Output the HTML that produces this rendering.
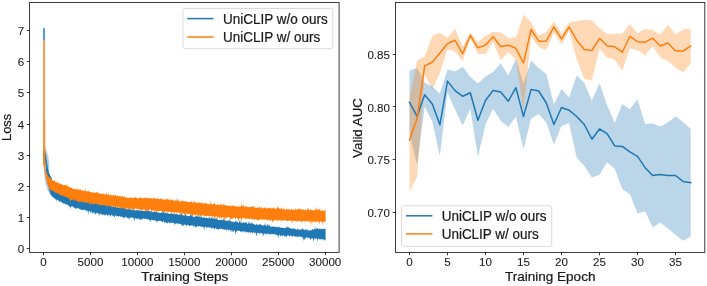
<!DOCTYPE html>
<html><head><meta charset="utf-8"><style>
html,body{margin:0;padding:0;background:#fff;}
svg{display:block;will-change:transform;}
text{font-family:"Liberation Sans", sans-serif;fill:#1a1a1a;stroke:#1a1a1a;stroke-width:0.22px;}
text.t{stroke-width:0.08px;}
</style></head><body>
<svg width="707" height="286" viewBox="0 0 707 286">
<rect width="707" height="286" fill="#fff"/>
<rect x="43.0" y="28.2" width="2.05" height="135" fill="#539fd8"/>
<path d="M45.00,146.00 L46.50,150.00 L48.20,156.00 L49.30,163.00 L49.50,169.00 L48.80,172.50 L46.50,168.00 L45.20,160.00Z" fill="#b5d2ea"/>
<path d="M43.40,163.00 L43.90,172.00 L44.80,179.00 L46.00,185.00 L47.80,190.50 L50.00,194.50 L51.50,195.00 L50.50,190.00 L48.40,185.30 L46.30,179.00 L44.90,172.00 L44.20,163.00Z" fill="#a9cae5"/>
<path d="M45.40,150.00 L46.30,157.00 L47.20,163.00 L47.80,168.00 L48.80,172.00 L50.20,175.50 L51.80,178.50 L52.60,190.44 L53.10,190.06 L53.60,190.43 L54.10,191.15 L54.60,191.31 L55.10,191.43 L55.60,191.19 L56.10,191.68 L56.60,191.14 L57.10,191.39 L57.60,189.23 L58.10,190.81 L58.60,192.40 L59.10,192.37 L59.60,192.66 L60.10,192.15 L60.60,192.48 L61.10,193.21 L61.60,192.50 L62.10,193.25 L62.60,193.22 L63.10,192.59 L63.60,193.78 L64.10,193.55 L64.60,193.25 L65.10,191.31 L65.60,194.16 L66.10,194.61 L66.60,194.85 L67.10,193.88 L67.60,193.51 L68.10,194.38 L68.60,194.78 L69.10,194.16 L69.60,195.26 L70.10,195.87 L70.60,195.23 L71.10,194.83 L71.60,195.97 L72.10,196.49 L72.60,196.51 L73.10,196.76 L73.60,196.84 L74.10,196.70 L74.60,197.18 L75.10,196.76 L75.60,196.17 L76.10,197.43 L76.60,197.48 L77.10,195.46 L77.60,197.98 L78.10,198.07 L78.60,197.72 L79.10,198.57 L79.60,198.36 L80.10,196.42 L80.60,198.44 L81.10,198.27 L81.60,197.48 L82.10,197.80 L82.60,199.21 L83.10,199.67 L83.60,199.85 L84.10,199.87 L84.60,199.87 L85.10,200.35 L85.60,200.41 L86.10,200.62 L86.60,200.03 L87.10,200.71 L87.60,200.73 L88.10,199.72 L88.60,200.88 L89.10,201.46 L89.60,201.34 L90.10,200.41 L90.60,201.95 L91.10,201.52 L91.60,201.64 L92.10,201.82 L92.60,200.97 L93.10,202.47 L93.60,202.71 L94.10,202.40 L94.60,202.84 L95.10,201.97 L95.60,201.92 L96.10,202.23 L96.60,203.54 L97.10,203.54 L97.60,204.02 L98.10,203.95 L98.60,201.83 L99.10,202.27 L99.60,202.15 L100.10,204.57 L100.60,204.68 L101.10,204.16 L101.60,203.56 L102.10,204.27 L102.60,205.14 L103.10,203.37 L103.60,204.28 L104.10,205.32 L104.60,205.24 L105.10,202.80 L105.60,205.33 L106.10,204.80 L106.60,205.81 L107.10,204.12 L107.60,205.97 L108.10,203.04 L108.60,205.92 L109.10,206.25 L109.60,203.62 L110.10,205.94 L110.60,206.17 L111.10,205.31 L111.60,206.57 L112.10,206.67 L112.60,206.74 L113.10,206.95 L113.60,206.80 L114.10,206.54 L114.60,206.89 L115.10,206.86 L115.60,206.91 L116.10,207.13 L116.60,207.68 L117.10,207.62 L117.60,206.83 L118.10,207.63 L118.60,207.39 L119.10,208.03 L119.60,207.98 L120.10,207.12 L120.60,207.73 L121.10,206.53 L121.60,207.81 L122.10,208.08 L122.60,208.26 L123.10,208.31 L123.60,207.96 L124.10,206.73 L124.60,208.44 L125.10,207.72 L125.60,209.17 L126.10,209.30 L126.60,209.39 L127.10,208.31 L127.60,209.49 L128.10,208.85 L128.60,208.09 L129.10,209.69 L129.60,209.57 L130.10,206.38 L130.60,209.96 L131.10,209.56 L131.60,210.01 L132.10,209.20 L132.60,209.62 L133.10,210.30 L133.60,209.57 L134.10,210.35 L134.60,209.20 L135.10,210.39 L135.60,210.49 L136.10,210.32 L136.60,210.17 L137.10,209.29 L137.60,210.57 L138.10,210.06 L138.60,210.71 L139.10,209.89 L139.60,210.81 L140.10,210.10 L140.60,210.88 L141.10,210.94 L141.60,210.55 L142.10,210.43 L142.60,210.87 L143.10,210.56 L143.60,211.11 L144.10,211.21 L144.60,210.99 L145.10,210.19 L145.60,210.82 L146.10,211.08 L146.60,211.23 L147.10,210.45 L147.60,211.38 L148.10,209.41 L148.60,210.26 L149.10,211.13 L149.60,211.32 L150.10,210.83 L150.60,211.49 L151.10,210.90 L151.60,211.53 L152.10,211.96 L152.60,212.00 L153.10,211.89 L153.60,212.11 L154.10,210.61 L154.60,212.04 L155.10,212.08 L155.60,212.28 L156.10,212.24 L156.60,209.66 L157.10,212.38 L157.60,212.37 L158.10,212.72 L158.60,212.27 L159.10,212.66 L159.60,212.90 L160.10,212.89 L160.60,212.99 L161.10,212.79 L161.60,212.44 L162.10,212.09 L162.60,212.25 L163.10,212.93 L163.60,210.04 L164.10,212.41 L164.60,213.47 L165.10,211.78 L165.60,212.56 L166.10,213.56 L166.60,213.18 L167.10,212.50 L167.60,213.16 L168.10,213.00 L168.60,213.77 L169.10,213.93 L169.60,214.01 L170.10,213.51 L170.60,213.43 L171.10,213.74 L171.60,213.06 L172.10,213.84 L172.60,213.60 L173.10,213.45 L173.60,214.52 L174.10,213.60 L174.60,213.62 L175.10,214.22 L175.60,214.30 L176.10,213.72 L176.60,214.12 L177.10,214.87 L177.60,213.97 L178.10,214.45 L178.60,215.13 L179.10,214.35 L179.60,214.40 L180.10,214.78 L180.60,214.92 L181.10,213.69 L181.60,212.48 L182.10,215.58 L182.60,214.28 L183.10,215.24 L183.60,215.58 L184.10,215.64 L184.60,215.77 L185.10,213.51 L185.60,214.63 L186.10,214.32 L186.60,215.91 L187.10,215.65 L187.60,216.24 L188.10,215.82 L188.60,216.24 L189.10,216.11 L189.60,216.47 L190.10,215.07 L190.60,214.51 L191.10,214.80 L191.60,216.34 L192.10,211.39 L192.60,216.47 L193.10,216.63 L193.60,216.86 L194.10,216.73 L194.60,216.83 L195.10,216.55 L195.60,216.81 L196.10,215.51 L196.60,216.50 L197.10,215.09 L197.60,216.40 L198.10,216.42 L198.60,216.41 L199.10,217.32 L199.60,215.56 L200.10,217.20 L200.60,217.48 L201.10,214.83 L201.60,217.03 L202.10,217.29 L202.60,217.85 L203.10,217.87 L203.60,217.57 L204.10,216.28 L204.60,217.76 L205.10,218.12 L205.60,218.02 L206.10,218.19 L206.60,217.79 L207.10,217.42 L207.60,218.16 L208.10,218.27 L208.60,218.65 L209.10,216.02 L209.60,218.28 L210.10,217.32 L210.60,218.73 L211.10,218.64 L211.60,216.66 L212.10,217.54 L212.60,219.24 L213.10,217.53 L213.60,218.70 L214.10,219.08 L214.60,218.15 L215.10,216.75 L215.60,219.60 L216.10,219.17 L216.60,217.56 L217.10,219.07 L217.60,219.49 L218.10,220.02 L218.60,219.91 L219.10,219.36 L219.60,220.15 L220.10,219.53 L220.60,220.31 L221.10,219.88 L221.60,220.16 L222.10,219.89 L222.60,220.41 L223.10,218.21 L223.60,219.11 L224.10,220.69 L224.60,218.39 L225.10,220.76 L225.60,220.57 L226.10,220.76 L226.60,220.38 L227.10,221.13 L227.60,221.08 L228.10,220.56 L228.60,220.27 L229.10,221.06 L229.60,218.89 L230.10,220.39 L230.60,221.62 L231.10,221.61 L231.60,221.40 L232.10,221.81 L232.60,221.20 L233.10,222.01 L233.60,222.01 L234.10,222.14 L234.60,222.27 L235.10,220.56 L235.60,221.39 L236.10,220.36 L236.60,222.41 L237.10,221.53 L237.60,221.82 L238.10,222.38 L238.60,222.67 L239.10,222.62 L239.60,220.45 L240.10,220.34 L240.60,222.71 L241.10,221.75 L241.60,223.15 L242.10,222.88 L242.60,223.14 L243.10,221.56 L243.60,223.02 L244.10,222.34 L244.60,223.53 L245.10,221.60 L245.60,222.59 L246.10,223.42 L246.60,221.28 L247.10,223.63 L247.60,223.63 L248.10,223.99 L248.60,222.07 L249.10,221.83 L249.60,223.97 L250.10,221.73 L250.60,223.92 L251.10,223.92 L251.60,222.33 L252.10,223.20 L252.60,223.17 L253.10,223.87 L253.60,224.37 L254.10,223.52 L254.60,224.63 L255.10,224.64 L255.60,224.90 L256.10,224.67 L256.60,223.33 L257.10,224.87 L257.60,225.10 L258.10,224.25 L258.60,225.09 L259.10,224.59 L259.60,224.33 L260.10,224.63 L260.60,224.10 L261.10,224.97 L261.60,224.63 L262.10,225.55 L262.60,225.71 L263.10,225.22 L263.60,225.57 L264.10,225.48 L264.60,224.79 L265.10,222.42 L265.60,225.73 L266.10,224.85 L266.60,226.35 L267.10,226.35 L267.60,223.63 L268.10,224.46 L268.60,225.05 L269.10,226.49 L269.60,224.46 L270.10,226.14 L270.60,226.72 L271.10,226.84 L271.60,226.78 L272.10,226.23 L272.60,227.11 L273.10,226.27 L273.60,226.93 L274.10,226.01 L274.60,227.28 L275.10,226.98 L275.60,226.62 L276.10,227.35 L276.60,227.12 L277.10,227.30 L277.60,227.35 L278.10,227.35 L278.60,226.16 L279.10,227.44 L279.60,226.82 L280.10,227.91 L280.60,227.52 L281.10,227.60 L281.60,227.57 L282.10,228.11 L282.60,227.35 L283.10,228.15 L283.60,227.91 L284.10,228.20 L284.60,227.79 L285.10,228.34 L285.60,227.18 L286.10,228.36 L286.60,226.30 L287.10,228.12 L287.60,226.61 L288.10,226.87 L288.60,227.41 L289.10,227.62 L289.60,228.49 L290.10,227.55 L290.60,228.82 L291.10,228.49 L291.60,229.02 L292.10,228.15 L292.60,229.21 L293.10,228.16 L293.60,227.89 L294.10,228.67 L294.60,228.67 L295.10,229.08 L295.60,229.13 L296.10,229.15 L296.60,229.66 L297.10,229.20 L297.60,228.64 L298.10,229.36 L298.60,229.39 L299.10,229.85 L299.60,229.94 L300.10,229.50 L300.60,229.32 L301.10,229.13 L301.60,229.67 L302.10,229.73 L302.60,227.94 L303.10,228.85 L303.60,229.41 L304.10,230.34 L304.60,230.03 L305.10,228.65 L305.60,229.44 L306.10,230.68 L306.60,229.67 L307.10,229.04 L307.60,229.55 L308.10,230.38 L308.60,230.68 L309.10,230.24 L309.60,230.71 L310.10,230.53 L310.60,229.69 L311.10,230.39 L311.60,230.37 L312.10,229.59 L312.60,228.69 L313.10,229.58 L313.60,230.11 L314.10,229.33 L314.60,228.74 L315.10,226.18 L315.60,229.43 L316.10,229.21 L316.60,228.48 L317.10,228.08 L317.60,228.52 L318.10,228.55 L318.60,228.96 L319.10,229.24 L319.60,228.50 L320.10,228.70 L320.60,229.17 L321.10,228.44 L321.60,229.29 L322.10,229.21 L322.60,229.11 L323.10,228.60 L323.60,228.54 L324.10,229.21 L324.60,229.11 L325.10,229.26 L325.60,227.71 L325.60,240.45 L325.10,239.99 L324.60,239.25 L324.10,241.27 L323.60,239.53 L323.10,239.14 L322.60,239.60 L322.10,239.20 L321.60,239.14 L321.10,238.76 L320.60,238.89 L320.10,240.44 L319.60,239.03 L319.10,238.65 L318.60,238.47 L318.10,239.28 L317.60,241.67 L317.10,238.54 L316.60,238.29 L316.10,238.35 L315.60,239.30 L315.10,238.77 L314.60,238.28 L314.10,238.38 L313.60,241.89 L313.10,239.58 L312.60,238.46 L312.10,238.11 L311.60,238.31 L311.10,238.88 L310.60,239.40 L310.10,239.74 L309.60,237.65 L309.10,237.74 L308.60,237.62 L308.10,239.34 L307.60,237.39 L307.10,237.47 L306.60,237.30 L306.10,237.45 L305.60,239.18 L305.10,237.14 L304.60,239.45 L304.10,240.09 L303.60,238.18 L303.10,241.22 L302.60,236.84 L302.10,237.05 L301.60,236.66 L301.10,237.76 L300.60,236.57 L300.10,236.48 L299.60,236.86 L299.10,236.79 L298.60,236.38 L298.10,236.39 L297.60,237.39 L297.10,236.34 L296.60,236.84 L296.10,236.48 L295.60,236.82 L295.10,236.60 L294.60,236.14 L294.10,236.44 L293.60,235.84 L293.10,235.72 L292.60,236.29 L292.10,237.40 L291.60,235.75 L291.10,235.86 L290.60,235.82 L290.10,235.52 L289.60,236.81 L289.10,235.47 L288.60,235.37 L288.10,235.96 L287.60,235.53 L287.10,235.14 L286.60,238.02 L286.10,235.12 L285.60,237.69 L285.10,235.46 L284.60,236.96 L284.10,235.10 L283.60,235.35 L283.10,235.53 L282.60,236.63 L282.10,235.30 L281.60,234.76 L281.10,236.29 L280.60,235.90 L280.10,236.34 L279.60,234.63 L279.10,234.58 L278.60,238.91 L278.10,234.74 L277.60,234.94 L277.10,236.68 L276.60,234.45 L276.10,235.09 L275.60,234.17 L275.10,234.69 L274.60,234.09 L274.10,234.60 L273.60,234.10 L273.10,234.04 L272.60,234.15 L272.10,233.97 L271.60,234.48 L271.10,233.89 L270.60,234.03 L270.10,234.39 L269.60,233.66 L269.10,234.73 L268.60,233.96 L268.10,233.82 L267.60,234.10 L267.10,233.52 L266.60,233.59 L266.10,235.23 L265.60,234.59 L265.10,233.27 L264.60,233.99 L264.10,233.30 L263.60,236.96 L263.10,233.32 L262.60,234.69 L262.10,233.15 L261.60,233.05 L261.10,233.21 L260.60,233.07 L260.10,232.85 L259.60,234.20 L259.10,233.56 L258.60,233.04 L258.10,233.03 L257.60,233.06 L257.10,232.52 L256.60,235.93 L256.10,235.49 L255.60,232.94 L255.10,232.30 L254.60,233.31 L254.10,232.21 L253.60,232.45 L253.10,232.36 L252.60,233.17 L252.10,233.01 L251.60,232.05 L251.10,232.38 L250.60,232.01 L250.10,234.19 L249.60,232.19 L249.10,231.65 L248.60,232.38 L248.10,232.65 L247.60,231.73 L247.10,232.43 L246.60,232.13 L246.10,231.57 L245.60,233.09 L245.10,231.45 L244.60,231.21 L244.10,231.14 L243.60,232.39 L243.10,231.03 L242.60,231.32 L242.10,232.92 L241.60,231.36 L241.10,231.25 L240.60,232.13 L240.10,230.88 L239.60,230.75 L239.10,230.94 L238.60,230.54 L238.10,230.81 L237.60,230.82 L237.10,230.41 L236.60,232.53 L236.10,230.60 L235.60,235.03 L235.10,231.90 L234.60,230.53 L234.10,230.12 L233.60,232.95 L233.10,230.37 L232.60,232.30 L232.10,230.30 L231.60,229.98 L231.10,232.19 L230.60,230.86 L230.10,229.87 L229.60,229.90 L229.10,229.72 L228.60,230.55 L228.10,229.59 L227.60,229.79 L227.10,229.32 L226.60,231.30 L226.10,229.41 L225.60,230.00 L225.10,229.06 L224.60,229.96 L224.10,229.15 L223.60,229.37 L223.10,229.62 L222.60,229.23 L222.10,228.68 L221.60,228.81 L221.10,229.25 L220.60,228.54 L220.10,229.38 L219.60,228.59 L219.10,228.59 L218.60,230.26 L218.10,229.40 L217.60,228.76 L217.10,229.21 L216.60,229.01 L216.10,228.85 L215.60,228.00 L215.10,228.03 L214.60,229.29 L214.10,229.77 L213.60,227.62 L213.10,228.07 L212.60,228.48 L212.10,227.45 L211.60,228.88 L211.10,227.78 L210.60,227.48 L210.10,227.38 L209.60,227.92 L209.10,227.17 L208.60,227.26 L208.10,227.27 L207.60,227.48 L207.10,227.25 L206.60,228.51 L206.10,226.95 L205.60,226.73 L205.10,226.67 L204.60,226.65 L204.10,230.99 L203.60,226.62 L203.10,228.25 L202.60,226.44 L202.10,226.64 L201.60,226.47 L201.10,226.36 L200.60,227.14 L200.10,226.34 L199.60,226.06 L199.10,225.93 L198.60,226.66 L198.10,226.25 L197.60,225.75 L197.10,226.29 L196.60,227.55 L196.10,226.87 L195.60,227.98 L195.10,225.59 L194.60,225.61 L194.10,227.50 L193.60,226.68 L193.10,225.23 L192.60,225.57 L192.10,225.78 L191.60,225.41 L191.10,225.23 L190.60,225.89 L190.10,224.94 L189.60,225.89 L189.10,226.18 L188.60,225.00 L188.10,224.89 L187.60,225.08 L187.10,224.50 L186.60,226.25 L186.10,225.34 L185.60,224.88 L185.10,224.36 L184.60,224.78 L184.10,224.83 L183.60,226.40 L183.10,224.26 L182.60,226.71 L182.10,224.39 L181.60,226.04 L181.10,223.96 L180.60,223.82 L180.10,224.16 L179.60,223.86 L179.10,224.45 L178.60,223.69 L178.10,223.37 L177.60,223.57 L177.10,223.44 L176.60,223.19 L176.10,223.82 L175.60,223.90 L175.10,223.28 L174.60,225.80 L174.10,222.93 L173.60,222.92 L173.10,222.82 L172.60,222.57 L172.10,223.05 L171.60,223.47 L171.10,222.29 L170.60,223.12 L170.10,222.92 L169.60,223.50 L169.10,222.34 L168.60,221.93 L168.10,222.77 L167.60,223.54 L167.10,223.07 L166.60,223.04 L166.10,222.11 L165.60,222.78 L165.10,222.15 L164.60,222.73 L164.10,222.04 L163.60,221.26 L163.10,221.37 L162.60,222.67 L162.10,221.76 L161.60,221.43 L161.10,220.96 L160.60,220.69 L160.10,221.01 L159.60,220.77 L159.10,221.01 L158.60,220.93 L158.10,220.68 L157.60,220.57 L157.10,222.84 L156.60,220.70 L156.10,222.60 L155.60,220.38 L155.10,220.32 L154.60,219.98 L154.10,220.57 L153.60,221.07 L153.10,219.67 L152.60,220.53 L152.10,219.48 L151.60,219.64 L151.10,220.03 L150.60,220.57 L150.10,222.30 L149.60,219.58 L149.10,220.40 L148.60,219.36 L148.10,218.95 L147.60,219.33 L147.10,219.40 L146.60,218.72 L146.10,218.67 L145.60,218.77 L145.10,218.83 L144.60,218.80 L144.10,218.64 L143.60,218.55 L143.10,218.58 L142.60,218.42 L142.10,220.35 L141.60,218.54 L141.10,219.75 L140.60,219.66 L140.10,219.35 L139.60,220.24 L139.10,218.40 L138.60,217.96 L138.10,218.82 L137.60,219.82 L137.10,218.00 L136.60,219.65 L136.10,217.77 L135.60,218.82 L135.10,217.81 L134.60,220.36 L134.10,220.82 L133.60,217.98 L133.10,217.68 L132.60,217.77 L132.10,217.28 L131.60,217.52 L131.10,217.49 L130.60,217.56 L130.10,218.49 L129.60,217.53 L129.10,219.37 L128.60,219.62 L128.10,216.93 L127.60,217.76 L127.10,218.50 L126.60,217.51 L126.10,216.78 L125.60,216.96 L125.10,216.55 L124.60,218.67 L124.10,216.55 L123.60,217.92 L123.10,218.45 L122.60,216.73 L122.10,217.00 L121.60,216.56 L121.10,216.40 L120.60,217.01 L120.10,216.37 L119.60,216.00 L119.10,216.34 L118.60,216.84 L118.10,216.14 L117.60,216.14 L117.10,215.94 L116.60,216.65 L116.10,215.46 L115.60,215.25 L115.10,215.78 L114.60,217.11 L114.10,216.93 L113.60,215.48 L113.10,216.85 L112.60,215.30 L112.10,215.50 L111.60,215.01 L111.10,214.86 L110.60,216.25 L110.10,216.72 L109.60,215.32 L109.10,214.43 L108.60,214.99 L108.10,215.15 L107.60,215.63 L107.10,215.48 L106.60,214.24 L106.10,214.19 L105.60,216.33 L105.10,214.32 L104.60,215.14 L104.10,215.04 L103.60,214.25 L103.10,214.88 L102.60,214.47 L102.10,214.83 L101.60,214.00 L101.10,215.26 L100.60,213.53 L100.10,213.49 L99.60,213.57 L99.10,216.63 L98.60,213.45 L98.10,213.80 L97.60,213.01 L97.10,212.65 L96.60,213.10 L96.10,213.48 L95.60,213.59 L95.10,215.52 L94.60,212.25 L94.10,213.14 L93.60,213.00 L93.10,212.07 L92.60,212.54 L92.10,214.55 L91.60,211.38 L91.10,211.37 L90.60,213.54 L90.10,211.16 L89.60,211.15 L89.10,210.87 L88.60,211.20 L88.10,214.54 L87.60,210.54 L87.10,210.67 L86.60,210.34 L86.10,211.75 L85.60,210.34 L85.10,210.00 L84.60,209.79 L84.10,209.78 L83.60,209.57 L83.10,210.21 L82.60,209.70 L82.10,210.45 L81.60,210.24 L81.10,208.91 L80.60,209.48 L80.10,209.49 L79.60,209.06 L79.10,208.67 L78.60,208.33 L78.10,208.46 L77.60,207.98 L77.10,207.74 L76.60,209.18 L76.10,207.73 L75.60,208.73 L75.10,208.70 L74.60,207.30 L74.10,208.31 L73.60,206.74 L73.10,207.52 L72.60,206.30 L72.10,206.53 L71.60,206.77 L71.10,205.96 L70.60,209.47 L70.10,206.26 L69.60,205.96 L69.10,207.21 L68.60,205.18 L68.10,205.21 L67.60,204.59 L67.10,204.77 L66.60,204.77 L66.10,204.23 L65.60,204.62 L65.10,203.39 L64.60,203.36 L64.10,204.55 L63.60,203.37 L63.10,203.45 L62.60,202.58 L62.10,202.79 L61.60,202.34 L61.10,201.87 L60.60,201.47 L60.10,201.51 L59.60,201.55 L59.10,201.92 L58.60,200.38 L58.10,200.27 L57.60,199.75 L57.10,199.83 L56.60,201.50 L56.10,199.05 L55.60,199.97 L55.10,198.35 L54.60,198.45 L54.10,198.27 L53.60,197.79 L53.10,197.20 L52.60,196.98 L50.60,194.50 L49.00,189.00 L47.80,184.00 L46.80,177.00 L46.00,170.00 L45.30,163.00 L44.90,158.00Z" fill="#1f77b4"/>
<rect x="43.0" y="40.1" width="2.05" height="80" fill="#f7a04f"/>
<rect x="43.0" y="120" width="2.2" height="45" fill="#f7953a"/>
<path d="M45.05,150.00 L45.05,163.00 L45.50,168.00 L46.30,172.00 L47.50,175.00 L49.50,177.80 L51.50,179.30 L52.60,180.44 L53.10,181.07 L53.60,180.64 L54.10,180.70 L54.60,179.54 L55.10,181.75 L55.60,182.17 L56.10,182.02 L56.60,182.61 L57.10,182.88 L57.60,180.85 L58.10,183.16 L58.60,183.00 L59.10,182.45 L59.60,183.72 L60.10,184.20 L60.60,183.25 L61.10,184.68 L61.60,183.78 L62.10,183.98 L62.60,185.04 L63.10,185.22 L63.60,185.29 L64.10,184.85 L64.60,184.99 L65.10,185.53 L65.60,185.12 L66.10,186.30 L66.60,184.04 L67.10,185.22 L67.60,186.86 L68.10,186.20 L68.60,186.38 L69.10,185.96 L69.60,187.63 L70.10,187.23 L70.60,187.34 L71.10,187.89 L71.60,187.62 L72.10,188.23 L72.60,188.13 L73.10,188.73 L73.60,188.97 L74.10,189.02 L74.60,189.17 L75.10,189.03 L75.60,189.46 L76.10,188.66 L76.60,188.76 L77.10,189.78 L77.60,189.58 L78.10,188.69 L78.60,190.12 L79.10,188.32 L79.60,190.31 L80.10,190.42 L80.60,189.12 L81.10,189.94 L81.60,190.06 L82.10,190.88 L82.60,189.92 L83.10,190.83 L83.60,191.21 L84.10,191.05 L84.60,191.04 L85.10,188.83 L85.60,190.05 L86.10,191.64 L86.60,191.29 L87.10,191.50 L87.60,191.31 L88.10,190.43 L88.60,190.73 L89.10,192.19 L89.60,191.12 L90.10,192.36 L90.60,191.91 L91.10,192.37 L91.60,192.28 L92.10,192.47 L92.60,192.53 L93.10,191.92 L93.60,192.88 L94.10,192.99 L94.60,192.19 L95.10,192.44 L95.60,192.91 L96.10,191.64 L96.60,191.74 L97.10,193.40 L97.60,191.82 L98.10,193.37 L98.60,193.63 L99.10,193.32 L99.60,192.90 L100.10,193.75 L100.60,194.03 L101.10,193.37 L101.60,194.16 L102.10,193.19 L102.60,194.34 L103.10,192.79 L103.60,194.42 L104.10,193.69 L104.60,194.60 L105.10,194.58 L105.60,194.29 L106.10,194.63 L106.60,192.06 L107.10,195.00 L107.60,195.07 L108.10,191.93 L108.60,194.25 L109.10,195.20 L109.60,195.35 L110.10,195.12 L110.60,195.18 L111.10,194.71 L111.60,194.93 L112.10,195.68 L112.60,195.46 L113.10,194.03 L113.60,195.33 L114.10,195.65 L114.60,195.13 L115.10,195.04 L115.60,194.77 L116.10,195.55 L116.60,196.14 L117.10,196.43 L117.60,195.36 L118.10,195.86 L118.60,196.29 L119.10,196.02 L119.60,195.97 L120.10,196.78 L120.60,195.81 L121.10,196.54 L121.60,197.12 L122.10,197.08 L122.60,195.04 L123.10,197.28 L123.60,196.82 L124.10,196.94 L124.60,196.17 L125.10,197.23 L125.60,197.53 L126.10,197.40 L126.60,197.76 L127.10,197.59 L127.60,197.75 L128.10,198.07 L128.60,197.71 L129.10,197.87 L129.60,198.09 L130.10,196.10 L130.60,198.16 L131.10,197.97 L131.60,198.26 L132.10,197.05 L132.60,197.88 L133.10,198.19 L133.60,198.06 L134.10,197.05 L134.60,197.91 L135.10,197.79 L135.60,197.00 L136.10,196.92 L136.60,198.07 L137.10,198.01 L137.60,198.46 L138.10,198.21 L138.60,198.19 L139.10,198.04 L139.60,197.63 L140.10,196.39 L140.60,198.46 L141.10,196.63 L141.60,198.40 L142.10,197.73 L142.60,198.53 L143.10,197.69 L143.60,198.47 L144.10,198.35 L144.60,198.23 L145.10,196.70 L145.60,198.44 L146.10,197.84 L146.60,197.72 L147.10,197.37 L147.60,198.44 L148.10,198.02 L148.60,198.17 L149.10,197.99 L149.60,198.43 L150.10,198.12 L150.60,198.20 L151.10,198.21 L151.60,198.18 L152.10,198.84 L152.60,198.39 L153.10,198.06 L153.60,198.61 L154.10,196.45 L154.60,198.27 L155.10,199.10 L155.60,198.25 L156.10,198.90 L156.60,198.69 L157.10,197.49 L157.60,198.35 L158.10,199.08 L158.60,199.09 L159.10,198.90 L159.60,199.36 L160.10,199.15 L160.60,198.24 L161.10,198.28 L161.60,199.17 L162.10,199.21 L162.60,198.98 L163.10,199.55 L163.60,199.63 L164.10,199.16 L164.60,199.98 L165.10,198.32 L165.60,200.07 L166.10,200.15 L166.60,198.16 L167.10,199.39 L167.60,198.37 L168.10,199.57 L168.60,199.43 L169.10,199.52 L169.60,199.60 L170.10,199.38 L170.60,200.41 L171.10,199.43 L171.60,199.81 L172.10,199.33 L172.60,200.10 L173.10,200.52 L173.60,200.55 L174.10,200.08 L174.60,200.90 L175.10,200.96 L175.60,199.71 L176.10,199.08 L176.60,201.12 L177.10,200.46 L177.60,198.06 L178.10,200.85 L178.60,200.49 L179.10,201.23 L179.60,201.41 L180.10,201.36 L180.60,201.44 L181.10,201.46 L181.60,200.60 L182.10,200.62 L182.60,201.69 L183.10,200.78 L183.60,200.79 L184.10,201.10 L184.60,201.45 L185.10,201.76 L185.60,201.04 L186.10,202.09 L186.60,200.80 L187.10,201.91 L187.60,202.12 L188.10,201.78 L188.60,202.00 L189.10,201.96 L189.60,202.35 L190.10,202.17 L190.60,201.79 L191.10,202.25 L191.60,200.37 L192.10,202.07 L192.60,202.75 L193.10,201.88 L193.60,202.58 L194.10,199.92 L194.60,202.28 L195.10,202.62 L195.60,202.74 L196.10,202.43 L196.60,201.91 L197.10,203.28 L197.60,202.89 L198.10,202.03 L198.60,203.40 L199.10,202.16 L199.60,202.87 L200.10,202.07 L200.60,202.73 L201.10,203.36 L201.60,203.11 L202.10,203.63 L202.60,201.72 L203.10,203.17 L203.60,203.47 L204.10,203.79 L204.60,202.82 L205.10,204.06 L205.60,203.00 L206.10,203.55 L206.60,202.56 L207.10,203.83 L207.60,204.23 L208.10,204.29 L208.60,204.15 L209.10,204.15 L209.60,204.47 L210.10,199.96 L210.60,204.60 L211.10,203.49 L211.60,204.05 L212.10,204.23 L212.60,204.83 L213.10,203.29 L213.60,204.27 L214.10,203.78 L214.60,202.69 L215.10,203.71 L215.60,204.88 L216.10,204.98 L216.60,205.13 L217.10,204.59 L217.60,204.80 L218.10,203.40 L218.60,204.64 L219.10,205.31 L219.60,205.22 L220.10,204.68 L220.60,204.66 L221.10,205.11 L221.60,202.93 L222.10,205.47 L222.60,205.48 L223.10,203.89 L223.60,204.35 L224.10,204.61 L224.60,205.05 L225.10,205.88 L225.60,204.85 L226.10,205.11 L226.60,205.34 L227.10,206.01 L227.60,205.91 L228.10,205.66 L228.60,206.01 L229.10,205.37 L229.60,205.31 L230.10,206.33 L230.60,206.19 L231.10,204.81 L231.60,206.33 L232.10,206.41 L232.60,205.04 L233.10,206.07 L233.60,205.20 L234.10,205.83 L234.60,206.45 L235.10,205.68 L235.60,206.59 L236.10,206.50 L236.60,206.65 L237.10,205.35 L237.60,206.70 L238.10,206.57 L238.60,206.82 L239.10,206.90 L239.60,206.10 L240.10,206.49 L240.60,206.81 L241.10,206.71 L241.60,202.10 L242.10,207.06 L242.60,205.36 L243.10,206.17 L243.60,204.16 L244.10,205.96 L244.60,207.19 L245.10,205.91 L245.60,207.21 L246.10,205.46 L246.60,206.76 L247.10,207.31 L247.60,206.51 L248.10,207.47 L248.60,206.82 L249.10,207.35 L249.60,206.88 L250.10,206.33 L250.60,207.52 L251.10,206.68 L251.60,206.74 L252.10,206.47 L252.60,206.36 L253.10,207.32 L253.60,205.97 L254.10,206.28 L254.60,207.80 L255.10,207.63 L255.60,207.66 L256.10,208.06 L256.60,207.62 L257.10,208.02 L257.60,206.80 L258.10,207.88 L258.60,207.84 L259.10,208.20 L259.60,205.82 L260.10,207.73 L260.60,207.72 L261.10,205.63 L261.60,208.23 L262.10,208.19 L262.60,208.42 L263.10,207.51 L263.60,208.49 L264.10,207.84 L264.60,207.59 L265.10,206.96 L265.60,208.57 L266.10,208.10 L266.60,208.40 L267.10,208.28 L267.60,208.00 L268.10,208.62 L268.60,207.68 L269.10,207.40 L269.60,208.44 L270.10,207.39 L270.60,208.48 L271.10,207.71 L271.60,208.72 L272.10,208.51 L272.60,207.69 L273.10,207.67 L273.60,209.01 L274.10,206.54 L274.60,208.88 L275.10,208.33 L275.60,208.55 L276.10,208.73 L276.60,209.20 L277.10,206.45 L277.60,207.06 L278.10,207.97 L278.60,207.60 L279.10,208.53 L279.60,208.47 L280.10,208.78 L280.60,208.66 L281.10,208.87 L281.60,207.08 L282.10,209.23 L282.60,209.44 L283.10,207.07 L283.60,209.35 L284.10,209.02 L284.60,209.55 L285.10,209.40 L285.60,209.44 L286.10,209.66 L286.60,208.30 L287.10,209.12 L287.60,209.64 L288.10,209.35 L288.60,209.11 L289.10,209.60 L289.60,209.73 L290.10,209.57 L290.60,209.96 L291.10,208.40 L291.60,209.35 L292.10,209.75 L292.60,209.76 L293.10,209.92 L293.60,208.43 L294.10,210.04 L294.60,209.64 L295.10,210.03 L295.60,207.58 L296.10,210.02 L296.60,209.82 L297.10,209.42 L297.60,208.83 L298.10,209.15 L298.60,209.10 L299.10,209.03 L299.60,208.30 L300.10,208.65 L300.60,209.14 L301.10,209.77 L301.60,209.66 L302.10,209.13 L302.60,209.62 L303.10,209.91 L303.60,209.38 L304.10,210.03 L304.60,210.05 L305.10,209.22 L305.60,209.92 L306.10,210.33 L306.60,210.38 L307.10,209.83 L307.60,208.52 L308.10,209.07 L308.60,208.02 L309.10,210.15 L309.60,210.60 L310.10,209.96 L310.60,208.62 L311.10,210.04 L311.60,210.09 L312.10,209.77 L312.60,210.35 L313.10,210.38 L313.60,209.84 L314.10,210.67 L314.60,210.36 L315.10,210.11 L315.60,208.14 L316.10,210.36 L316.60,206.40 L317.10,210.25 L317.60,210.73 L318.10,207.82 L318.60,210.33 L319.10,209.13 L319.60,209.57 L320.10,209.21 L320.60,210.84 L321.10,210.42 L321.60,210.84 L322.10,210.23 L322.60,210.69 L323.10,210.25 L323.60,210.65 L324.10,210.80 L324.60,211.11 L325.10,209.65 L325.60,210.26 L325.60,221.42 L325.10,221.94 L324.60,221.51 L324.10,222.14 L323.60,222.43 L323.10,221.21 L322.60,225.22 L322.10,221.89 L321.60,221.29 L321.10,221.68 L320.60,221.38 L320.10,221.53 L319.60,224.78 L319.10,222.00 L318.60,221.14 L318.10,222.43 L317.60,221.33 L317.10,222.36 L316.60,221.33 L316.10,221.76 L315.60,221.50 L315.10,222.65 L314.60,221.60 L314.10,221.30 L313.60,221.51 L313.10,223.26 L312.60,221.60 L312.10,221.26 L311.60,221.44 L311.10,225.95 L310.60,222.01 L310.10,221.36 L309.60,220.84 L309.10,222.71 L308.60,220.95 L308.10,222.21 L307.60,221.05 L307.10,220.80 L306.60,221.40 L306.10,220.99 L305.60,221.16 L305.10,222.19 L304.60,220.97 L304.10,221.29 L303.60,220.91 L303.10,221.11 L302.60,220.98 L302.10,222.24 L301.60,221.01 L301.10,223.19 L300.60,221.25 L300.10,220.54 L299.60,220.63 L299.10,221.49 L298.60,221.01 L298.10,221.56 L297.60,221.05 L297.10,221.97 L296.60,221.33 L296.10,220.75 L295.60,221.48 L295.10,220.60 L294.60,221.44 L294.10,220.76 L293.60,220.81 L293.10,220.39 L292.60,221.51 L292.10,223.81 L291.60,220.84 L291.10,220.50 L290.60,220.61 L290.10,220.96 L289.60,220.81 L289.10,220.43 L288.60,220.70 L288.10,220.81 L287.60,221.14 L287.10,220.97 L286.60,220.86 L286.10,220.72 L285.60,220.29 L285.10,220.46 L284.60,220.14 L284.10,220.13 L283.60,220.48 L283.10,220.54 L282.60,220.66 L282.10,220.75 L281.60,220.17 L281.10,220.33 L280.60,220.09 L280.10,221.90 L279.60,220.07 L279.10,220.04 L278.60,219.80 L278.10,221.48 L277.60,220.53 L277.10,220.91 L276.60,219.81 L276.10,220.23 L275.60,219.70 L275.10,219.99 L274.60,220.04 L274.10,221.76 L273.60,220.15 L273.10,221.05 L272.60,221.47 L272.10,222.68 L271.60,219.80 L271.10,219.79 L270.60,221.70 L270.10,220.01 L269.60,219.83 L269.10,221.59 L268.60,219.50 L268.10,220.01 L267.60,220.89 L267.10,219.41 L266.60,219.37 L266.10,219.80 L265.60,219.33 L265.10,220.22 L264.60,219.27 L264.10,219.76 L263.60,219.87 L263.10,219.30 L262.60,219.18 L262.10,220.44 L261.60,219.15 L261.10,219.24 L260.60,219.03 L260.10,219.60 L259.60,219.52 L259.10,220.60 L258.60,220.04 L258.10,219.89 L257.60,220.48 L257.10,219.85 L256.60,219.40 L256.10,219.38 L255.60,219.49 L255.10,218.88 L254.60,220.13 L254.10,218.93 L253.60,219.17 L253.10,218.64 L252.60,220.20 L252.10,218.90 L251.60,218.59 L251.10,218.93 L250.60,218.54 L250.10,219.16 L249.60,219.42 L249.10,218.59 L248.60,218.92 L248.10,218.42 L247.60,218.50 L247.10,219.47 L246.60,218.38 L246.10,218.44 L245.60,218.67 L245.10,218.78 L244.60,218.16 L244.10,218.46 L243.60,218.11 L243.10,218.35 L242.60,218.09 L242.10,218.29 L241.60,220.06 L241.10,221.73 L240.60,218.11 L240.10,218.18 L239.60,218.07 L239.10,219.66 L238.60,220.90 L238.10,219.66 L237.60,218.31 L237.10,218.07 L236.60,217.97 L236.10,218.11 L235.60,219.30 L235.10,218.28 L234.60,217.65 L234.10,217.70 L233.60,218.07 L233.10,217.85 L232.60,218.29 L232.10,219.58 L231.60,217.91 L231.10,219.17 L230.60,219.56 L230.10,219.46 L229.60,217.49 L229.10,217.28 L228.60,217.35 L228.10,217.33 L227.60,217.25 L227.10,217.41 L226.60,218.19 L226.10,217.30 L225.60,219.22 L225.10,217.06 L224.60,220.27 L224.10,217.83 L223.60,216.84 L223.10,218.64 L222.60,217.06 L222.10,216.70 L221.60,220.46 L221.10,216.73 L220.60,216.94 L220.10,219.01 L219.60,217.12 L219.10,218.98 L218.60,216.78 L218.10,216.38 L217.60,218.64 L217.10,217.88 L216.60,216.24 L216.10,216.32 L215.60,216.15 L215.10,218.72 L214.60,217.20 L214.10,216.43 L213.60,216.19 L213.10,216.43 L212.60,219.58 L212.10,215.83 L211.60,216.11 L211.10,215.87 L210.60,216.49 L210.10,216.02 L209.60,215.64 L209.10,216.14 L208.60,216.17 L208.10,216.42 L207.60,215.57 L207.10,216.06 L206.60,215.88 L206.10,217.06 L205.60,215.40 L205.10,216.45 L204.60,215.57 L204.10,216.14 L203.60,215.16 L203.10,215.83 L202.60,215.08 L202.10,215.92 L201.60,216.04 L201.10,214.78 L200.60,216.61 L200.10,215.91 L199.60,214.80 L199.10,216.11 L198.60,215.87 L198.10,216.13 L197.60,215.04 L197.10,214.52 L196.60,214.49 L196.10,215.98 L195.60,215.04 L195.10,215.82 L194.60,214.31 L194.10,215.38 L193.60,214.65 L193.10,215.26 L192.60,216.72 L192.10,214.02 L191.60,214.92 L191.10,214.87 L190.60,214.02 L190.10,214.36 L189.60,214.75 L189.10,214.33 L188.60,214.05 L188.10,213.37 L187.60,214.84 L187.10,214.25 L186.60,213.22 L186.10,213.94 L185.60,213.06 L185.10,215.66 L184.60,215.10 L184.10,213.88 L183.60,212.91 L183.10,214.33 L182.60,213.92 L182.10,212.84 L181.60,212.84 L181.10,212.58 L180.60,214.14 L180.10,215.17 L179.60,213.33 L179.10,212.37 L178.60,212.50 L178.10,212.35 L177.60,212.73 L177.10,214.38 L176.60,212.50 L176.10,212.53 L175.60,212.70 L175.10,212.06 L174.60,212.58 L174.10,214.03 L173.60,212.26 L173.10,212.20 L172.60,211.95 L172.10,212.90 L171.60,211.98 L171.10,213.52 L170.60,211.54 L170.10,211.55 L169.60,211.90 L169.10,211.55 L168.60,212.04 L168.10,212.05 L167.60,211.97 L167.10,212.40 L166.60,211.86 L166.10,211.23 L165.60,211.30 L165.10,211.59 L164.60,211.94 L164.10,212.09 L163.60,211.52 L163.10,211.07 L162.60,211.97 L162.10,213.61 L161.60,210.86 L161.10,210.97 L160.60,210.79 L160.10,211.11 L159.60,210.87 L159.10,211.54 L158.60,210.82 L158.10,211.84 L157.60,211.00 L157.10,210.19 L156.60,210.64 L156.10,213.26 L155.60,212.15 L155.10,210.71 L154.60,210.72 L154.10,209.92 L153.60,210.24 L153.10,211.23 L152.60,210.37 L152.10,211.13 L151.60,211.20 L151.10,210.11 L150.60,209.63 L150.10,209.51 L149.60,209.54 L149.10,209.63 L148.60,211.07 L148.10,210.40 L147.60,210.23 L147.10,210.71 L146.60,211.01 L146.10,210.39 L145.60,210.92 L145.10,210.36 L144.60,209.20 L144.10,210.23 L143.60,209.13 L143.10,209.20 L142.60,211.36 L142.10,208.91 L141.60,210.29 L141.10,210.05 L140.60,210.20 L140.10,210.30 L139.60,209.08 L139.10,209.50 L138.60,209.17 L138.10,208.84 L137.60,209.61 L137.10,208.71 L136.60,208.75 L136.10,208.73 L135.60,208.79 L135.10,208.51 L134.60,208.65 L134.10,209.69 L133.60,209.12 L133.10,210.92 L132.60,208.89 L132.10,209.00 L131.60,209.36 L131.10,208.32 L130.60,209.39 L130.10,208.66 L129.60,209.08 L129.10,208.18 L128.60,208.82 L128.10,208.23 L127.60,208.14 L127.10,207.71 L126.60,210.93 L126.10,208.68 L125.60,208.39 L125.10,209.77 L124.60,207.92 L124.10,208.08 L123.60,208.21 L123.10,207.82 L122.60,207.66 L122.10,208.22 L121.60,207.56 L121.10,209.81 L120.60,207.20 L120.10,207.59 L119.60,208.80 L119.10,207.03 L118.60,207.03 L118.10,206.70 L117.60,207.41 L117.10,206.78 L116.60,207.07 L116.10,206.69 L115.60,207.05 L115.10,207.04 L114.60,207.71 L114.10,206.15 L113.60,206.98 L113.10,206.26 L112.60,206.83 L112.10,206.42 L111.60,206.11 L111.10,206.10 L110.60,206.73 L110.10,205.44 L109.60,205.53 L109.10,206.09 L108.60,205.67 L108.10,206.42 L107.60,205.47 L107.10,207.64 L106.60,205.99 L106.10,205.05 L105.60,204.96 L105.10,205.07 L104.60,204.82 L104.10,206.10 L103.60,204.84 L103.10,204.70 L102.60,204.92 L102.10,205.05 L101.60,204.75 L101.10,205.31 L100.60,205.64 L100.10,204.41 L99.60,204.85 L99.10,205.07 L98.60,204.36 L98.10,205.52 L97.60,204.27 L97.10,203.88 L96.60,203.59 L96.10,203.56 L95.60,203.81 L95.10,203.69 L94.60,204.50 L94.10,204.43 L93.60,203.92 L93.10,203.59 L92.60,203.15 L92.10,205.19 L91.60,204.23 L91.10,203.28 L90.60,203.93 L90.10,203.12 L89.60,205.55 L89.10,202.61 L88.60,202.50 L88.10,202.35 L87.60,202.39 L87.10,203.10 L86.60,203.23 L86.10,202.40 L85.60,202.67 L85.10,202.38 L84.60,202.05 L84.10,202.67 L83.60,201.83 L83.10,201.96 L82.60,201.62 L82.10,201.45 L81.60,201.52 L81.10,202.51 L80.60,202.33 L80.10,200.89 L79.60,200.92 L79.10,202.91 L78.60,202.09 L78.10,202.12 L77.60,201.58 L77.10,200.80 L76.60,201.03 L76.10,200.64 L75.60,199.74 L75.10,199.70 L74.60,201.56 L74.10,199.34 L73.60,201.12 L73.10,199.84 L72.60,199.23 L72.10,199.84 L71.60,200.23 L71.10,199.95 L70.60,201.38 L70.10,199.03 L69.60,199.80 L69.10,198.01 L68.60,197.81 L68.10,199.61 L67.60,197.31 L67.10,196.90 L66.60,196.89 L66.10,197.31 L65.60,196.88 L65.10,196.55 L64.60,196.14 L64.10,197.18 L63.60,196.60 L63.10,195.32 L62.60,195.18 L62.10,195.37 L61.60,195.19 L61.10,195.98 L60.60,195.26 L60.10,195.76 L59.60,194.04 L59.10,193.65 L58.60,194.07 L58.10,193.75 L57.60,192.87 L57.10,193.14 L56.60,193.46 L56.10,192.22 L55.60,192.36 L55.10,193.37 L54.60,192.31 L54.10,191.47 L53.60,191.10 L53.10,191.33 L52.60,190.50 L50.60,190.30 L48.90,187.60 L47.50,184.40 L46.40,180.50 L45.40,175.50 L44.30,169.00 L43.40,162.00 L43.00,150.00Z" fill="#ff7f0e"/>
<rect x="29.6" y="2.5" width="309.5" height="249.9" fill="none" stroke="#1a1a1a" stroke-width="0.85"/>
<line x1="26.8" y1="248.50" x2="29.6" y2="248.50" stroke="#1a1a1a" stroke-width="0.85"/>
<text class="t" x="24.20" y="252.85" font-size="11.2" text-anchor="end" textLength="6.46" lengthAdjust="spacingAndGlyphs">0</text>
<line x1="26.8" y1="217.50" x2="29.6" y2="217.50" stroke="#1a1a1a" stroke-width="0.85"/>
<text class="t" x="24.20" y="222.32" font-size="11.2" text-anchor="end" textLength="6.46" lengthAdjust="spacingAndGlyphs">1</text>
<line x1="26.8" y1="186.50" x2="29.6" y2="186.50" stroke="#1a1a1a" stroke-width="0.85"/>
<text class="t" x="24.20" y="191.09" font-size="11.2" text-anchor="end" textLength="6.46" lengthAdjust="spacingAndGlyphs">2</text>
<line x1="26.8" y1="155.50" x2="29.6" y2="155.50" stroke="#1a1a1a" stroke-width="0.85"/>
<text class="t" x="24.20" y="159.86" font-size="11.2" text-anchor="end" textLength="6.46" lengthAdjust="spacingAndGlyphs">3</text>
<line x1="26.8" y1="124.50" x2="29.6" y2="124.50" stroke="#1a1a1a" stroke-width="0.85"/>
<text class="t" x="24.20" y="128.63" font-size="11.2" text-anchor="end" textLength="6.46" lengthAdjust="spacingAndGlyphs">4</text>
<line x1="26.8" y1="92.50" x2="29.6" y2="92.50" stroke="#1a1a1a" stroke-width="0.85"/>
<text class="t" x="24.20" y="97.40" font-size="11.2" text-anchor="end" textLength="6.46" lengthAdjust="spacingAndGlyphs">5</text>
<line x1="26.8" y1="61.50" x2="29.6" y2="61.50" stroke="#1a1a1a" stroke-width="0.85"/>
<text class="t" x="24.20" y="66.17" font-size="11.2" text-anchor="end" textLength="6.46" lengthAdjust="spacingAndGlyphs">6</text>
<line x1="26.8" y1="30.50" x2="29.6" y2="30.50" stroke="#1a1a1a" stroke-width="0.85"/>
<text class="t" x="24.20" y="34.94" font-size="11.2" text-anchor="end" textLength="6.46" lengthAdjust="spacingAndGlyphs">7</text>
<line x1="43.50" y1="252.4" x2="43.50" y2="255.3" stroke="#1a1a1a" stroke-width="0.85"/>
<text class="t" x="43.50" y="266.00" font-size="11.2" text-anchor="middle" textLength="6.46" lengthAdjust="spacingAndGlyphs">0</text>
<line x1="90.50" y1="252.4" x2="90.50" y2="255.3" stroke="#1a1a1a" stroke-width="0.85"/>
<text class="t" x="90.45" y="266.00" font-size="11.2" text-anchor="middle" textLength="25.83" lengthAdjust="spacingAndGlyphs">5000</text>
<line x1="137.50" y1="252.4" x2="137.50" y2="255.3" stroke="#1a1a1a" stroke-width="0.85"/>
<text class="t" x="137.40" y="266.00" font-size="11.2" text-anchor="middle" textLength="32.29" lengthAdjust="spacingAndGlyphs">10000</text>
<line x1="184.50" y1="252.4" x2="184.50" y2="255.3" stroke="#1a1a1a" stroke-width="0.85"/>
<text class="t" x="184.35" y="266.00" font-size="11.2" text-anchor="middle" textLength="32.29" lengthAdjust="spacingAndGlyphs">15000</text>
<line x1="231.50" y1="252.4" x2="231.50" y2="255.3" stroke="#1a1a1a" stroke-width="0.85"/>
<text class="t" x="231.30" y="266.00" font-size="11.2" text-anchor="middle" textLength="32.29" lengthAdjust="spacingAndGlyphs">20000</text>
<line x1="278.50" y1="252.4" x2="278.50" y2="255.3" stroke="#1a1a1a" stroke-width="0.85"/>
<text class="t" x="278.25" y="266.00" font-size="11.2" text-anchor="middle" textLength="32.29" lengthAdjust="spacingAndGlyphs">25000</text>
<line x1="325.50" y1="252.4" x2="325.50" y2="255.3" stroke="#1a1a1a" stroke-width="0.85"/>
<text class="t" x="325.20" y="266.00" font-size="11.2" text-anchor="middle" textLength="32.29" lengthAdjust="spacingAndGlyphs">30000</text>
<text x="184.80" y="280.70" font-size="13.2" text-anchor="middle" textLength="87.21" lengthAdjust="spacingAndGlyphs">Training Steps</text>
<text x="11.30" y="127.40" font-size="13.2" text-anchor="middle" textLength="27.09" lengthAdjust="spacingAndGlyphs" transform="rotate(-90 11.3 127.4)">Loss</text>
<g>
<path d="M409.50,70.50 L417.10,67.90 L424.70,82.70 L432.30,86.50 L439.90,93.80 L447.50,69.60 L455.10,71.60 L462.70,66.80 L470.30,76.80 L477.90,83.60 L485.50,76.50 L493.10,72.10 L500.70,63.20 L508.30,75.40 L515.90,58.90 L523.50,83.80 L531.10,60.50 L538.70,68.00 L546.30,73.90 L553.90,104.50 L561.50,88.90 L569.10,97.50 L576.70,75.50 L584.30,83.00 L591.90,100.80 L599.50,83.30 L607.10,105.00 L614.70,123.10 L622.30,103.90 L629.90,109.30 L637.50,99.20 L645.10,124.10 L652.70,123.50 L660.30,126.50 L667.90,122.50 L675.50,116.20 L683.10,122.10 L690.70,128.90 L690.70,236.50 L683.10,240.70 L675.50,234.80 L667.90,228.50 L660.30,222.50 L652.70,227.50 L645.10,211.30 L637.50,213.60 L629.90,194.30 L622.30,188.90 L614.70,168.70 L607.10,162.20 L599.50,174.70 L591.90,177.60 L584.30,166.00 L576.70,157.50 L569.10,122.90 L561.50,126.10 L553.90,144.50 L546.30,122.60 L538.70,114.00 L531.10,118.50 L523.50,149.20 L515.90,116.50 L508.30,127.00 L500.70,120.80 L493.10,108.70 L485.50,124.50 L477.90,156.80 L470.30,108.80 L462.70,125.80 L455.10,109.60 L447.50,92.60 L439.90,155.80 L432.30,121.50 L424.70,106.70 L417.10,164.70 L409.50,134.10Z" fill="rgba(31,119,180,0.3)"/>
<path d="M409.50,98.50 L417.10,60.50 L424.70,56.70 L432.30,35.70 L439.90,33.00 L447.50,37.80 L455.10,28.80 L462.70,46.50 L470.30,32.50 L477.90,41.90 L485.50,36.00 L493.10,31.80 L500.70,32.50 L508.30,38.30 L515.90,37.30 L523.50,14.80 L531.10,22.20 L538.70,35.40 L546.30,31.90 L553.90,21.40 L561.50,33.60 L569.10,22.80 L576.70,21.10 L584.30,19.90 L591.90,20.50 L599.50,28.10 L607.10,33.90 L614.70,33.80 L622.30,33.80 L629.90,24.30 L637.50,33.20 L645.10,29.10 L652.70,30.20 L660.30,34.40 L667.90,24.90 L675.50,34.50 L683.10,29.60 L690.70,28.50 L690.70,63.50 L683.10,72.40 L675.50,67.50 L667.90,61.10 L660.30,57.60 L652.70,46.20 L645.10,55.30 L637.50,50.20 L629.90,48.30 L622.30,70.60 L614.70,59.80 L607.10,57.70 L599.50,48.50 L591.90,80.50 L584.30,78.90 L576.70,59.50 L569.10,30.80 L561.50,44.40 L553.90,32.20 L546.30,50.30 L538.70,47.00 L531.10,36.80 L523.50,110.80 L515.90,59.30 L508.30,52.30 L500.70,60.50 L493.10,41.80 L485.50,54.00 L477.90,53.90 L470.30,38.50 L462.70,61.10 L455.10,51.80 L447.50,49.20 L439.90,73.00 L432.30,88.90 L424.70,74.90 L417.10,176.80 L409.50,191.50Z" fill="rgba(255,127,14,0.3)"/>
</g>
<path d="M409.50,102.30 L417.10,116.30 L424.70,94.70 L432.30,104.00 L439.90,124.80 L447.50,81.10 L455.10,90.60 L462.70,96.30 L470.30,92.80 L477.90,120.20 L485.50,100.50 L493.10,90.40 L500.70,92.00 L508.30,101.20 L515.90,87.70 L523.50,116.50 L531.10,89.50 L538.70,91.00 L546.30,103.00 L553.90,124.50 L561.50,107.50 L569.10,110.20 L576.70,116.50 L584.30,124.50 L591.90,139.20 L599.50,129.00 L607.10,133.60 L614.70,145.90 L622.30,146.40 L629.90,151.80 L637.50,156.40 L645.10,167.70 L652.70,175.50 L660.30,174.50 L667.90,175.50 L675.50,175.50 L683.10,181.40 L690.70,182.70" fill="none" stroke="#1f77b4" stroke-width="1.5" stroke-linejoin="round" stroke-linecap="square"/>
<path d="M409.50,140.30 L417.10,118.50 L424.70,65.80 L432.30,62.30 L439.90,53.00 L447.50,43.50 L455.10,40.30 L462.70,53.80 L470.30,35.50 L477.90,47.90 L485.50,45.00 L493.10,36.80 L500.70,46.50 L508.30,45.30 L515.90,48.30 L523.50,62.80 L531.10,29.50 L538.70,41.20 L546.30,41.10 L553.90,26.80 L561.50,39.00 L569.10,26.80 L576.70,40.30 L584.30,49.40 L591.90,50.50 L599.50,38.30 L607.10,45.80 L614.70,46.80 L622.30,52.20 L629.90,36.30 L637.50,41.70 L645.10,42.20 L652.70,38.20 L660.30,46.00 L667.90,43.00 L675.50,51.00 L683.10,51.00 L690.70,46.00" fill="none" stroke="#ff7f0e" stroke-width="1.5" stroke-linejoin="round" stroke-linecap="square"/>
<rect x="395.5" y="2.5" width="309.29999999999995" height="249.9" fill="none" stroke="#1a1a1a" stroke-width="0.85"/>
<line x1="392.7" y1="212.50" x2="395.5" y2="212.50" stroke="#1a1a1a" stroke-width="0.85"/>
<text class="t" x="390.00" y="217.00" font-size="11.2" text-anchor="end" textLength="22.60" lengthAdjust="spacingAndGlyphs">0.70</text>
<line x1="392.7" y1="159.50" x2="395.5" y2="159.50" stroke="#1a1a1a" stroke-width="0.85"/>
<text class="t" x="390.00" y="164.26" font-size="11.2" text-anchor="end" textLength="22.60" lengthAdjust="spacingAndGlyphs">0.75</text>
<line x1="392.7" y1="106.50" x2="395.5" y2="106.50" stroke="#1a1a1a" stroke-width="0.85"/>
<text class="t" x="390.00" y="111.53" font-size="11.2" text-anchor="end" textLength="22.60" lengthAdjust="spacingAndGlyphs">0.80</text>
<line x1="392.7" y1="54.50" x2="395.5" y2="54.50" stroke="#1a1a1a" stroke-width="0.85"/>
<text class="t" x="390.00" y="58.79" font-size="11.2" text-anchor="end" textLength="22.60" lengthAdjust="spacingAndGlyphs">0.85</text>
<line x1="409.50" y1="252.4" x2="409.50" y2="255.3" stroke="#1a1a1a" stroke-width="0.85"/>
<text class="t" x="409.50" y="266.00" font-size="11.2" text-anchor="middle" textLength="6.46" lengthAdjust="spacingAndGlyphs">0</text>
<line x1="447.50" y1="252.4" x2="447.50" y2="255.3" stroke="#1a1a1a" stroke-width="0.85"/>
<text class="t" x="447.50" y="266.00" font-size="11.2" text-anchor="middle" textLength="6.46" lengthAdjust="spacingAndGlyphs">5</text>
<line x1="485.50" y1="252.4" x2="485.50" y2="255.3" stroke="#1a1a1a" stroke-width="0.85"/>
<text class="t" x="485.50" y="266.00" font-size="11.2" text-anchor="middle" textLength="12.92" lengthAdjust="spacingAndGlyphs">10</text>
<line x1="523.50" y1="252.4" x2="523.50" y2="255.3" stroke="#1a1a1a" stroke-width="0.85"/>
<text class="t" x="523.50" y="266.00" font-size="11.2" text-anchor="middle" textLength="12.92" lengthAdjust="spacingAndGlyphs">15</text>
<line x1="561.50" y1="252.4" x2="561.50" y2="255.3" stroke="#1a1a1a" stroke-width="0.85"/>
<text class="t" x="561.50" y="266.00" font-size="11.2" text-anchor="middle" textLength="12.92" lengthAdjust="spacingAndGlyphs">20</text>
<line x1="599.50" y1="252.4" x2="599.50" y2="255.3" stroke="#1a1a1a" stroke-width="0.85"/>
<text class="t" x="599.50" y="266.00" font-size="11.2" text-anchor="middle" textLength="12.92" lengthAdjust="spacingAndGlyphs">25</text>
<line x1="637.50" y1="252.4" x2="637.50" y2="255.3" stroke="#1a1a1a" stroke-width="0.85"/>
<text class="t" x="637.50" y="266.00" font-size="11.2" text-anchor="middle" textLength="12.92" lengthAdjust="spacingAndGlyphs">30</text>
<line x1="675.50" y1="252.4" x2="675.50" y2="255.3" stroke="#1a1a1a" stroke-width="0.85"/>
<text class="t" x="675.50" y="266.00" font-size="11.2" text-anchor="middle" textLength="12.92" lengthAdjust="spacingAndGlyphs">35</text>
<text x="550.20" y="280.70" font-size="13.2" text-anchor="middle" textLength="90.47" lengthAdjust="spacingAndGlyphs">Training Epoch</text>
<text x="362.00" y="128.00" font-size="13.2" text-anchor="middle" textLength="59.80" lengthAdjust="spacingAndGlyphs" transform="rotate(-90 362.0 128.0)">Valid AUC</text>
<rect x="182.9" y="8.5" width="149.9" height="40.2" rx="2.2" fill="#ffffff" fill-opacity="0.8" stroke="#d6d6d6" stroke-width="0.9"/>
<line x1="187.2" y1="18.6" x2="213.5" y2="18.6" stroke="#1f77b4" stroke-width="1.5"/>
<line x1="187.2" y1="37.0" x2="213.5" y2="37.0" stroke="#ff7f0e" stroke-width="1.5"/>
<text x="223.10" y="23.60" font-size="14.0" text-anchor="start" textLength="104.71" lengthAdjust="spacingAndGlyphs">UniCLIP w/o ours</text>
<text x="223.10" y="41.70" font-size="14.0" text-anchor="start" textLength="97.06" lengthAdjust="spacingAndGlyphs">UniCLIP w/ ours</text>
<rect x="401.5" y="205.8" width="150.2" height="40.6" rx="2.2" fill="#ffffff" fill-opacity="0.8" stroke="#d6d6d6" stroke-width="0.9"/>
<line x1="406.0" y1="215.8" x2="432.4" y2="215.8" stroke="#1f77b4" stroke-width="1.5"/>
<line x1="406.0" y1="233.9" x2="432.4" y2="233.9" stroke="#ff7f0e" stroke-width="1.5"/>
<text x="441.70" y="220.90" font-size="14.0" text-anchor="start" textLength="104.71" lengthAdjust="spacingAndGlyphs">UniCLIP w/o ours</text>
<text x="441.70" y="239.00" font-size="14.0" text-anchor="start" textLength="97.06" lengthAdjust="spacingAndGlyphs">UniCLIP w/ ours</text>
</svg>
</body></html>
